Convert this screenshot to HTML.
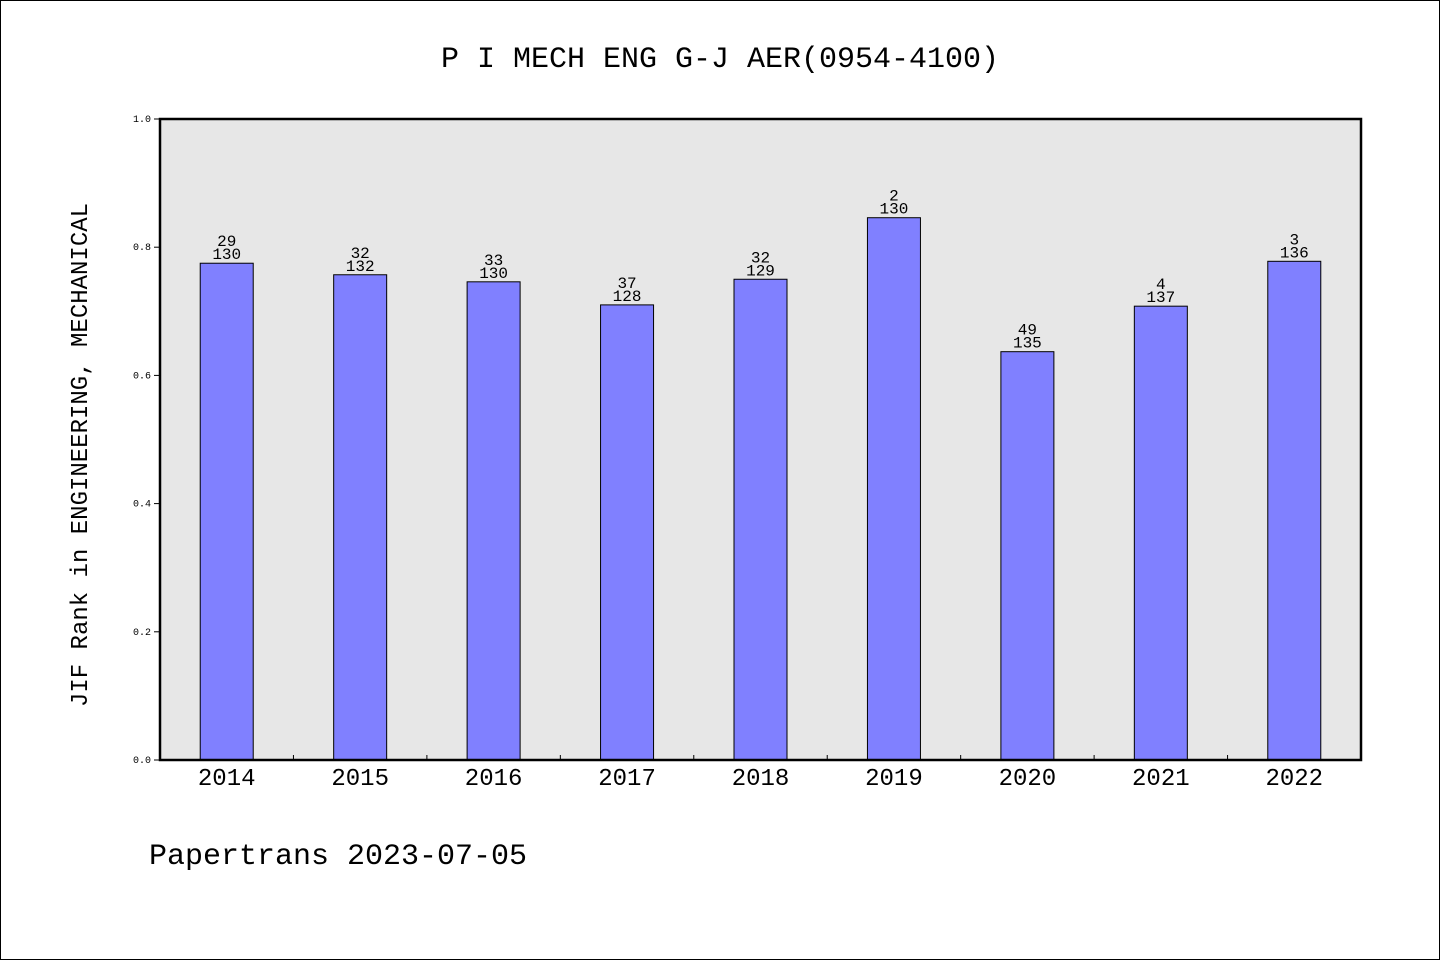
<!DOCTYPE html>
<html><head><meta charset="utf-8">
<style>
html,body{margin:0;padding:0;background:#fff;}
svg{display:block;font-family:"WenQuanYi Zen Hei","Liberation Mono",monospace;}
</style></head>
<body>
<svg id="chart" width="1440" height="960" viewBox="0 0 1440 960">
<rect x="0.5" y="0.5" width="1439" height="959" fill="#fff" stroke="#000"/>
<text x="720" y="67" text-anchor="middle" font-size="30">P I MECH ENG G-J AER(0954-4100)</text>
<rect x="160" y="119" width="1201" height="641" fill="#e7e7e7"/>
<g id="bars"></g>
<rect x="160" y="119" width="1201" height="641" fill="none" stroke="#000" stroke-width="2.5"/>
<g id="axes"></g>
<text transform="translate(87,455) rotate(-90)" text-anchor="middle" font-size="24">JIF Rank in ENGINEERING, MECHANICAL</text>
<text x="149" y="864" font-size="30">Papertrans 2023-07-05</text>
</svg>
<script>
const categories=["2014","2015","2016","2017","2018","2019","2020","2021","2022"];
const values=[0.775,0.757,0.746,0.710,0.750,0.846,0.637,0.708,0.778];
const ranks=["29","32","33","37","32","2","49","4","3"];
const totals=["130","132","130","128","129","130","135","137","136"];
const yTicks=[0,0.2,0.4,0.6,0.8,1.0];
const NS="http://www.w3.org/2000/svg";
const X0=160,X1=1361,Y0=760,Y1=119;
const band=(X1-X0)/categories.length;
const xc=i=>X0+band*(i+0.5);
const y=v=>Y0-(v)*(Y0-Y1);
function mk(t,a){const e=document.createElementNS(NS,t);for(const k in a)e.setAttribute(k,a[k]);return e;}
const bars=document.getElementById('bars'),axes=document.getElementById('axes');
categories.forEach((c,i)=>{
 const r=mk('rect',{x:xc(i)-26.5,y:y(values[i]),width:53,height:Y0-y(values[i]),fill:'#8080ff',stroke:'#000','stroke-width':1});
 
 
 bars.appendChild(r);
 const t1=mk('text',{x:xc(i),y:y(values[i])-17,'text-anchor':'middle','font-size':16});
 t1.textContent=ranks[i];
 
 
 bars.appendChild(t1);
 const t2=mk('text',{x:xc(i),y:y(values[i])-4,'text-anchor':'middle','font-size':16});
 t2.textContent=totals[i];
 
 
 bars.appendChild(t2);
 const xl=mk('text',{x:xc(i),y:785,'text-anchor':'middle','font-size':24});
 xl.textContent=c;
 
 
 axes.appendChild(xl);
 if(i>0){
  const tk=mk('line',{x1:X0+band*i,x2:X0+band*i,y1:Y0,y2:Y0-5,stroke:'#000'});
  
  
  axes.appendChild(tk);
 }
});
yTicks.forEach(v=>{
 const tk=mk('line',{x1:X0-6,x2:X0,y1:y(v),y2:y(v),stroke:'#000'});
 
 
 axes.appendChild(tk);
 const tl=mk('text',{x:X0-9,y:y(v)+3,'text-anchor':'end','font-size':10});
 tl.textContent=v.toFixed(1);
 
 
 axes.appendChild(tl);
});
</script>
</body></html>
